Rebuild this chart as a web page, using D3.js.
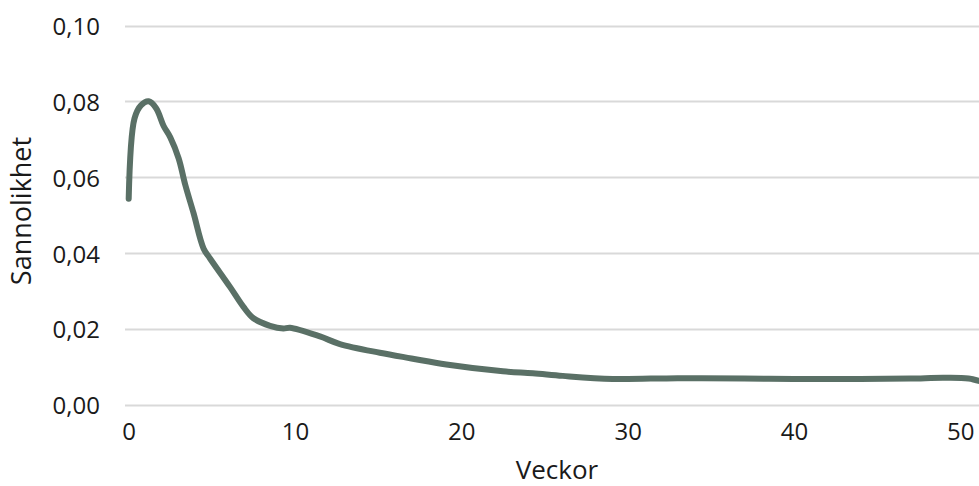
<!DOCTYPE html>
<html>
<head>
<meta charset="utf-8">
<script src="https://cdn.jsdelivr.net/npm/d3@7"></script>
<style>
  html, body { margin: 0; padding: 0; background: #fff; }
  svg { display: block; font-family: "Open Sans", sans-serif; }
</style>
</head>
<body>
<svg id="chart" width="979" height="486"></svg>
<script>
// Data
const weeks = [0, 0.35, 0.75, 1.2, 1.65, 2.1, 2.5, 3.0, 3.4, 3.9, 4.5, 4.9, 6.1, 6.9, 7.5, 8.5, 9.3, 9.7,
  11.5, 12.7, 15.1, 17, 19.1, 22.5, 24.3, 26.1, 29.1, 33, 37, 40, 44, 47, 49, 50.5, 51.5, 52];
const probability = [0.0543, 0.0755, 0.0790, 0.0800, 0.0782, 0.0735, 0.0705, 0.0650, 0.0580, 0.0505, 0.0412, 0.0385, 0.0310, 0.0258, 0.0228, 0.0208, 0.0201, 0.0203,
  0.0180, 0.0160, 0.0137, 0.0122, 0.0106, 0.0088, 0.0083, 0.0076, 0.0068, 0.0070, 0.0069, 0.0068, 0.0068, 0.0069, 0.0071, 0.0069, 0.0058, 0.0052];
const yTicks = [0, 0.02, 0.04, 0.06, 0.08, 0.10];
const xTicks = [0, 10, 20, 30, 40, 50];
const xTitle = "Veckor";
const yTitle = "Sannolikhet";

const svg = d3.select("#chart");
const x = d3.scaleLinear().domain([0, 52]).range([128.7, 993.5]);
const y = d3.scaleLinear().domain([0, 0.10]).range([404.7, 25.5]);
const fmt = v => d3.format(".2f")(v).replace(".", ",");

// gridlines
svg.append("g").selectAll("line").data(yTicks).join("line")
  .attr("x1", 125).attr("x2", 979)
  .attr("y1", d => Math.round(y(d)) + 0.5).attr("y2", d => Math.round(y(d)) + 0.5)
  .attr("stroke", "#d9d9d9").attr("stroke-width", 2);

// y axis labels
const yAxis = svg.append("g").attr("transform", "translate(100,0)")
  .call(d3.axisLeft(y).tickValues(yTicks).tickFormat(fmt).tickSize(0).tickPadding(0));
yAxis.select(".domain").remove();
yAxis.selectAll("text").attr("font-size", 24).attr("fill", "#1a1a1a")
  .attr("font-family", "Open Sans, sans-serif").attr("dy", "0.38em");

// x axis labels
const xAxis = svg.append("g").attr("transform", "translate(0,423)")
  .call(d3.axisBottom(x).tickValues(xTicks).tickFormat(d3.format("d")).tickSize(0).tickPadding(0));
xAxis.select(".domain").remove();
xAxis.selectAll("text").attr("font-size", 24).attr("fill", "#1a1a1a")
  .attr("font-family", "Open Sans, sans-serif");

// line
const pts = weeks.map((w, i) => [w, probability[i]]);
svg.append("path").datum(pts)
  .attr("d", d3.line().x(d => x(d[0])).y(d => y(d[1])).curve(d3.curveCatmullRom.alpha(0.5)))
  .attr("fill", "none").attr("stroke", "#5a7066").attr("stroke-width", 6)
  .attr("stroke-linecap", "round").attr("stroke-linejoin", "round");

// axis titles
svg.append("text").attr("x", 557).attr("y", 479).attr("text-anchor", "middle")
  .attr("font-size", 26).attr("fill", "#1a1a1a").text(xTitle);
svg.append("text").attr("transform", "translate(31,211) rotate(-90)").attr("text-anchor", "middle")
  .attr("font-size", 27).attr("fill", "#1a1a1a").text(yTitle);
</script>
</body>
</html>
